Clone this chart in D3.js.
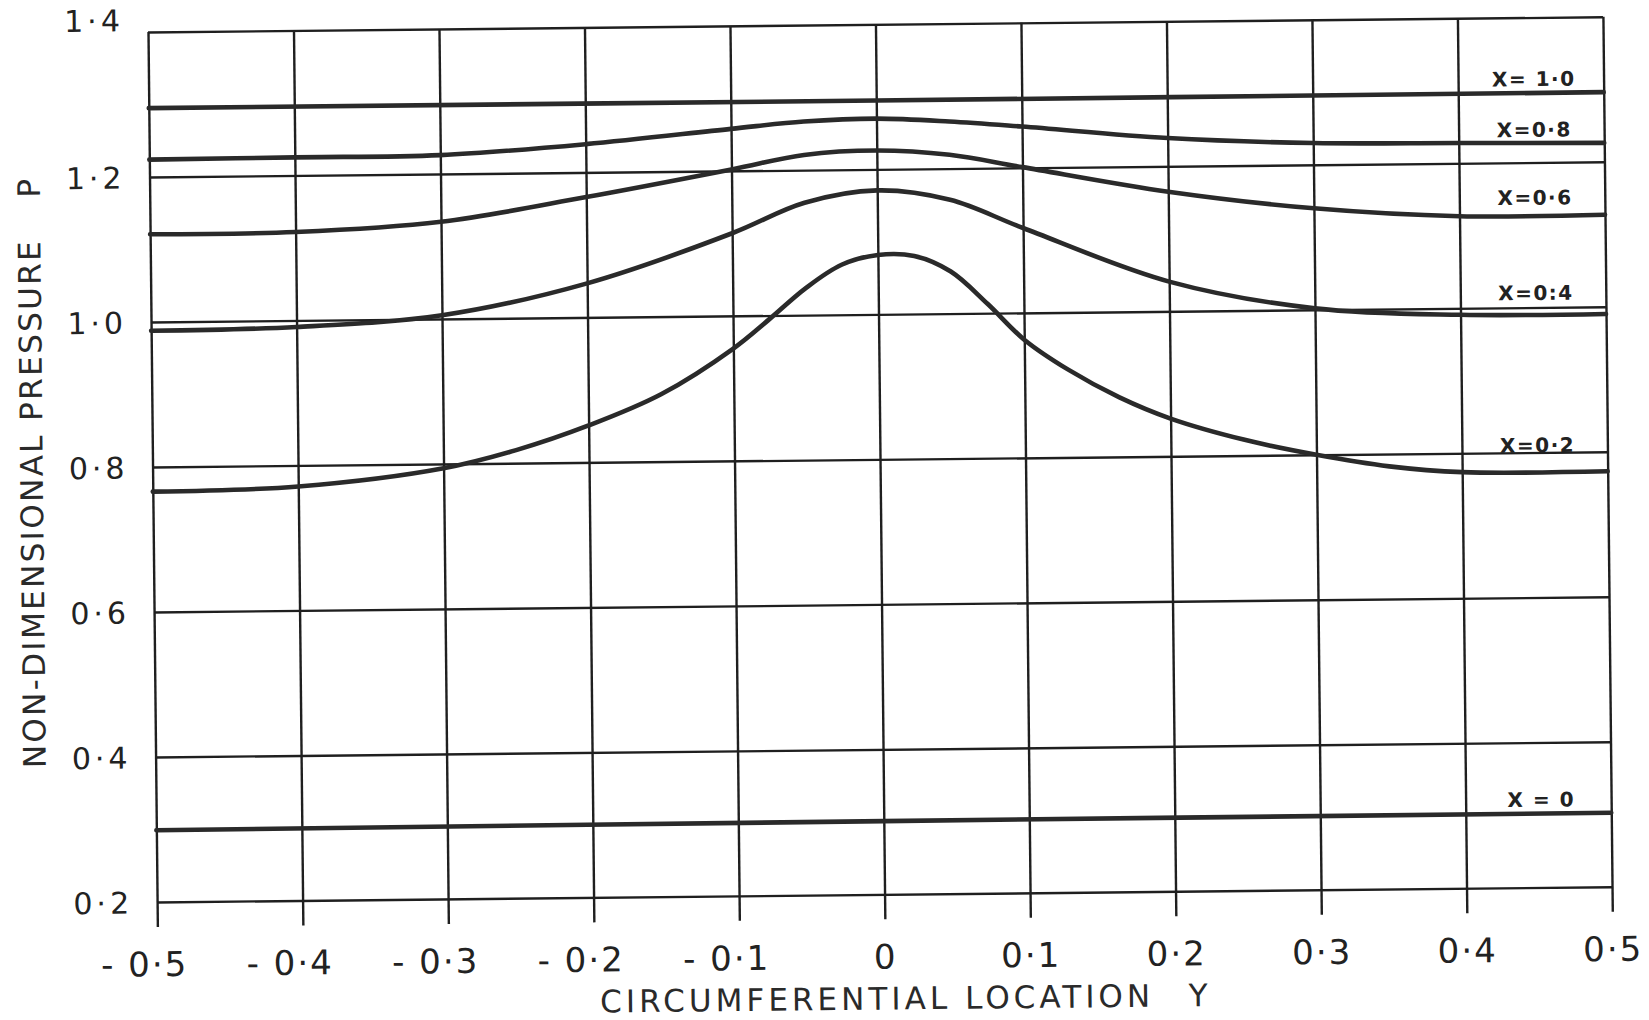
<!DOCTYPE html>
<html>
<head>
<meta charset="utf-8">
<script src="https://cdn.jsdelivr.net/npm/d3@7"></script>
<style>
  html, body { margin: 0; padding: 0; background: #fff; }
  svg { display: block; }
</style>
</head>
<body>
<svg id="chart" width="1649" height="1020"></svg>
<script>
// Axis ticks
const xTicks = [-0.5, -0.4, -0.3, -0.2, -0.1, 0, 0.1, 0.2, 0.3, 0.4, 0.5];
const yTicks = [0.2, 0.4, 0.6, 0.8, 1.0, 1.2, 1.4];

// Pressure profiles P(Y) for each axial station X, as [Y, P] pairs
const curveX10 = [[-0.5, 1.295], [0, 1.295], [0.5, 1.296]];
const curveX08 = [[-0.5, 1.224], [-0.4, 1.225], [-0.3, 1.226], [-0.2, 1.239], [-0.1, 1.258],
                  [-0.05, 1.267], [0, 1.270], [0.05, 1.265], [0.1, 1.257], [0.2, 1.239],
                  [0.3, 1.230], [0.4, 1.228], [0.5, 1.226]];
const curveX06 = [[-0.5, 1.121], [-0.4, 1.122], [-0.3, 1.134], [-0.2, 1.166], [-0.1, 1.202],
                  [-0.05, 1.221], [0, 1.226], [0.05, 1.219], [0.1, 1.201], [0.2, 1.165],
                  [0.3, 1.140], [0.4, 1.127], [0.5, 1.127]];
const curveX04 = [[-0.5, 0.988], [-0.4, 0.991], [-0.3, 1.005], [-0.2, 1.047], [-0.1, 1.114],
                  [-0.05, 1.155], [0, 1.171], [0.05, 1.157], [0.1, 1.117], [0.2, 1.041],
                  [0.3, 1.002], [0.4, 0.991], [0.5, 0.990]];
const curveX02 = [[-0.5, 0.766], [-0.4, 0.771], [-0.3, 0.794], [-0.25, 0.818], [-0.2, 0.851],
                  [-0.15, 0.893], [-0.1, 0.955], [-0.075, 0.995], [-0.05, 1.037], [-0.025, 1.069],
                  [0, 1.082], [0.025, 1.080], [0.05, 1.058], [0.075, 1.013], [0.1, 0.963],
                  [0.13, 0.921], [0.165, 0.882], [0.2, 0.852], [0.25, 0.822], [0.3, 0.800],
                  [0.35, 0.783], [0.4, 0.774], [0.5, 0.773]];
const curveX00 = [[-0.5, 0.299], [0, 0.301], [0.5, 0.302]];

const curveNames = ["X= 1·0", "X=0·8", "X=0·6", "X=0:4", "X=0·2", "X = 0"];

// ---- layout ----
const W = 1455, H = 870;
const ink = "#1f1f1f";
const font = "'DejaVu Sans', 'Liberation Sans', sans-serif";

const svg = d3.select("#chart");
svg.append("rect").attr("width", 1649).attr("height", 1020).attr("fill", "#fff");

// the whole plate sits slightly skewed on the page
const g = svg.append("g").attr("transform", "translate(148,32) rotate(-0.6)");

const x = d3.scaleLinear().domain([-0.5, 0.5]).range([0, W]);
const y = d3.scaleLinear().domain([0.2, 1.4]).range([H, 0]);

const num = v => Math.abs(v) < 1e-9 ? "0" : d3.format(".1f")(Math.abs(v)).replace(".", "·");

// horizontal grid + y tick labels
const yAxis = g.append("g")
  .call(d3.axisLeft(y).tickValues(yTicks).tickSize(-W).tickFormat(num));
yAxis.select(".domain").remove();
yAxis.selectAll(".tick line").attr("stroke", ink).attr("stroke-width", 2.4);
yAxis.selectAll(".tick text")
  .attr("x", -24)
  .attr("dy", d => d === 1.4 ? "-0.05em" : "0.36em")
  .attr("fill", "#222")
  .style("font-family", font)
  .style("font-size", "30px")
  .style("letter-spacing", "4px");

// vertical grid with ticks running below the frame + x tick labels
const tickDrop = 25;
const xAxis = g.append("g")
  .attr("transform", `translate(0,${H + tickDrop})`)
  .call(d3.axisBottom(x).tickValues(xTicks).tickSize(-(H + tickDrop)).tickFormat(num));
xAxis.select(".domain").remove();
xAxis.selectAll(".tick line").attr("stroke", ink).attr("stroke-width", 2.4);
xAxis.selectAll(".tick text")
  .attr("y", 37)
  .attr("dy", "0.36em")
  .attr("fill", "#222")
  .style("font-family", font)
  .style("font-size", "34px")
  .style("letter-spacing", "2px")
  .each(function (d) {
    // keep the digits centred on the tick; a leading minus hangs to the left
    if (d < 0) {
      const t = d3.select(this);
      const w = this.getComputedTextLength();
      t.text("- " + num(d)).attr("text-anchor", "end").attr("x", w / 2);
    }
  });

// pressure curves
const line = d3.line()
  .x(d => x(d[0]))
  .y(d => y(d[1]))
  .curve(d3.curveCatmullRom.alpha(0.5));

const curves = [curveX10, curveX08, curveX06, curveX04, curveX02, curveX00];
g.append("g")
  .selectAll("path")
  .data(curves)
  .join("path")
  .attr("d", line)
  .attr("fill", "none")
  .attr("stroke", "#2a2a2a")
  .attr("stroke-width", 4.6)
  .attr("stroke-linecap", "round")
  .attr("stroke-linejoin", "round");

// station labels, set just above each curve near the right edge
const labelLift = [14, 14, 18, 22, 27, 14];
const labelY = 0.452;
g.append("g")
  .selectAll("text")
  .data(curves)
  .join("text")
  .attr("x", x(labelY))
  .attr("y", (d, i) => y(d[d.length - 1][1]) - labelLift[i])
  .attr("dy", "0.36em")
  .attr("text-anchor", "middle")
  .attr("fill", "#222")
  .style("font-family", font)
  .style("font-weight", "bold")
  .style("font-size", "20px")
  .style("letter-spacing", "1.5px")
  .text((d, i) => curveNames[i]);

// axis titles
g.append("text")
  .attr("x", 442)
  .attr("y", H + 104)
  .attr("dy", "0.36em")
  .attr("textLength", 550)
  .attr("lengthAdjust", "spacing")
  .attr("fill", "#2a2a2a")
  .style("font-family", font)
  .style("font-size", "31px")
  .text("CIRCUMFERENTIAL LOCATION");
g.append("text")
  .attr("x", 1040)
  .attr("y", H + 104)
  .attr("dy", "0.36em")
  .attr("text-anchor", "middle")
  .attr("fill", "#2a2a2a")
  .style("font-family", font)
  .style("font-size", "31px")
  .text("Y");

g.append("text")
  .attr("transform", "translate(-121,735) rotate(-90)")
  .attr("dy", "0.36em")
  .attr("textLength", 527)
  .attr("lengthAdjust", "spacing")
  .attr("fill", "#2a2a2a")
  .style("font-family", font)
  .style("font-size", "31px")
  .text("NON-DIMENSIONAL PRESSURE");
g.append("text")
  .attr("transform", "translate(-121,155) rotate(-90)")
  .attr("dy", "0.36em")
  .attr("text-anchor", "middle")
  .attr("fill", "#2a2a2a")
  .style("font-family", font)
  .style("font-size", "31px")
  .text("P");
</script>
</body>
</html>
